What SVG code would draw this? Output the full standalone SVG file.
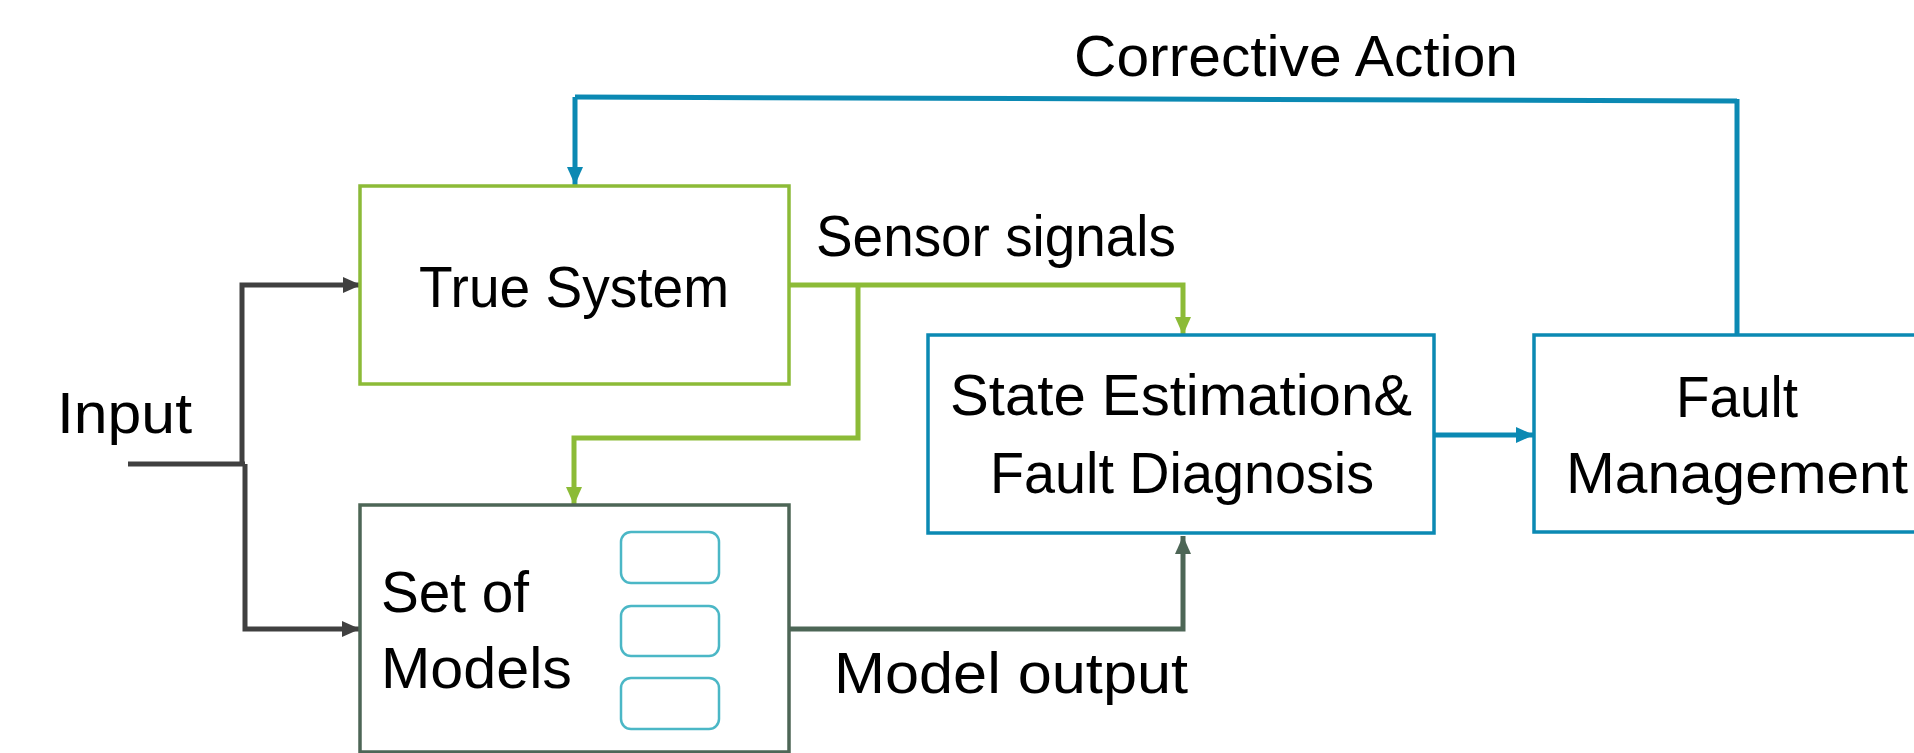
<svg xmlns="http://www.w3.org/2000/svg" width="1914" height="753" viewBox="0 0 1914 753">
<style>
text{font-family:"Liberation Sans",Arial,sans-serif;font-size:57px;fill:#000}
.box{fill:#fff;stroke-width:3.5}
.g{stroke:#8cbb37}
.b{stroke:#0b89b3}
.d{stroke:#4d6656}
.mini{fill:#fff;stroke:#4bb7c6;stroke-width:2.5}
.c{fill:none;stroke-width:5}
</style>
<defs>
<marker id="ag" markerUnits="userSpaceOnUse" markerWidth="20" markerHeight="18" refX="18" refY="8" orient="auto"><path d="M0,0 L18,8 L0,16 z" fill="#8cbb37"/></marker>
<marker id="ab" markerUnits="userSpaceOnUse" markerWidth="20" markerHeight="18" refX="18" refY="8" orient="auto"><path d="M0,0 L18,8 L0,16 z" fill="#0b89b3"/></marker>
<marker id="ad" markerUnits="userSpaceOnUse" markerWidth="20" markerHeight="18" refX="18" refY="8" orient="auto"><path d="M0,0 L18,8 L0,16 z" fill="#4d6656"/></marker>
<marker id="ak" markerUnits="userSpaceOnUse" markerWidth="20" markerHeight="18" refX="18" refY="8" orient="auto"><path d="M0,0 L18,8 L0,16 z" fill="#404040"/></marker>
</defs>
<rect width="1914" height="753" fill="#fff"/>
<g id="connectors">
<path class="c" stroke="#0b89b3" d="M1737,101 L575,97" stroke-width="5.5"/>
<path class="c" stroke="#0b89b3" d="M1737,335 V99" stroke-width="4"/>
<path class="c" stroke="#0b89b3" d="M575,97 V185" stroke-width="4" marker-end="url(#ab)"/>
<path class="c" stroke="#0b89b3" d="M1434,435 H1534" marker-end="url(#ab)"/>
<path class="c" stroke="#8cbb37" d="M789,285 H1183 V335" marker-end="url(#ag)"/>
<path class="c" stroke="#8cbb37" d="M858,285 V438 H574 V505" marker-end="url(#ag)"/>
<path class="c" stroke="#4d6656" d="M789,629 H1183 V536" marker-end="url(#ad)"/>
<path class="c" stroke="#404040" d="M128,464 H245 M242,464 V285 H361" marker-end="url(#ak)"/>
<path class="c" stroke="#404040" d="M245,464 V629 H360" marker-end="url(#ak)"/>
</g>
<g id="label-input"><text x="57" y="433" textLength="135" lengthAdjust="spacingAndGlyphs">Input</text></g>
<g id="label-corrective"><text x="1074" y="76" textLength="444" lengthAdjust="spacingAndGlyphs">Corrective Action</text></g>
<g id="label-sensor"><text x="816" y="256" textLength="360" lengthAdjust="spacingAndGlyphs">Sensor signals</text></g>
<g id="label-model-output"><text x="834" y="693" textLength="354" lengthAdjust="spacingAndGlyphs">Model output</text></g>
<g id="true-system">
<rect class="box g" x="360" y="186" width="429" height="198"/>
<text x="419" y="307" textLength="310" lengthAdjust="spacingAndGlyphs">True System</text>
</g>
<g id="set-of-models">
<rect class="box d" x="360" y="505" width="429" height="247"/>
<text x="381" y="612" textLength="148" lengthAdjust="spacingAndGlyphs">Set of</text>
<text x="381" y="688" textLength="191" lengthAdjust="spacingAndGlyphs">Models</text>
<rect class="mini" x="621" y="532" width="98" height="51" rx="10"/>
<rect class="mini" x="621" y="606" width="98" height="50" rx="10"/>
<rect class="mini" x="621" y="678" width="98" height="51" rx="10"/>
</g>
<g id="state-estimation">
<rect class="box b" x="928" y="335" width="506" height="198"/>
<text x="950" y="415" textLength="462" lengthAdjust="spacingAndGlyphs">State Estimation&amp;</text>
<text x="990" y="493" textLength="384" lengthAdjust="spacingAndGlyphs">Fault Diagnosis</text>
</g>
<g id="fault-management">
<rect class="box b" x="1534" y="335" width="420" height="197"/>
<text x="1676" y="417" textLength="122" lengthAdjust="spacingAndGlyphs">Fault</text>
<text x="1566" y="493" textLength="342" lengthAdjust="spacingAndGlyphs">Management</text>
</g>
</svg>
